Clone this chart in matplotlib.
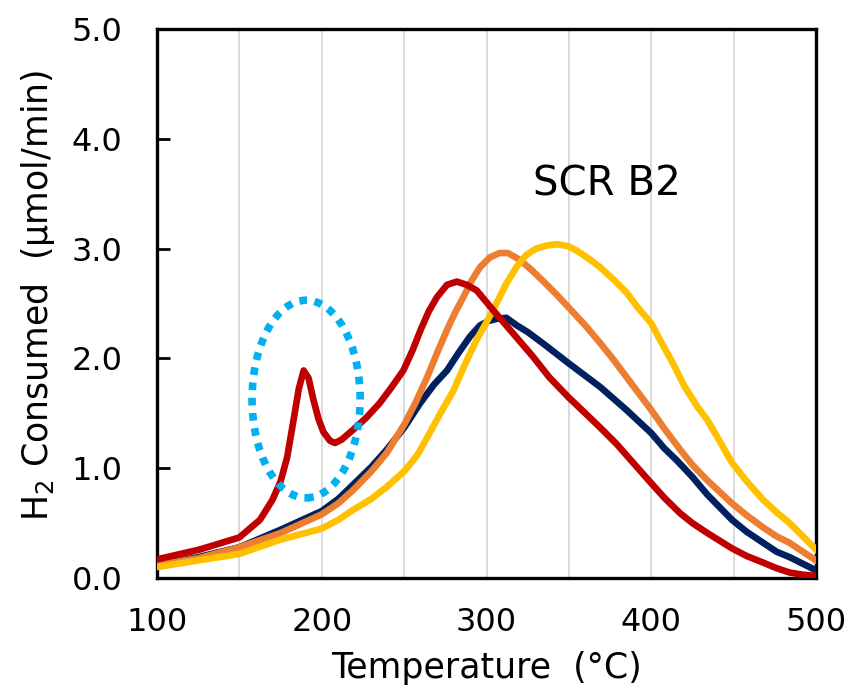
"""
H2-TPR profiles for SCR B2 catalyst samples
"""

### Import modules
import numpy as np
import matplotlib.pyplot as plt
from matplotlib.patches import Ellipse

### Data (temperature in C, H2 consumed in umol/min)
temp_red = [100, 126, 150, 162.5, 170, 175, 179, 183, 186, 189, 192, 195, 198,
            201, 205, 208, 212, 219, 227, 235, 242, 249.5, 255, 260, 265, 270,
            276, 282, 288, 294, 299, 304, 312, 320, 328, 338, 349.5, 360, 369,
            379, 389, 399, 408, 417.5, 425, 434, 449, 458, 468, 476, 484, 492, 500]
h2_red = [0.17, 0.26, 0.37, 0.53, 0.71, 0.88, 1.10, 1.45, 1.72, 1.89, 1.82, 1.62, 1.45,
          1.33, 1.25, 1.23, 1.26, 1.35, 1.46, 1.59, 1.73, 1.89, 2.07, 2.26, 2.43, 2.56,
          2.67, 2.70, 2.67, 2.62, 2.53, 2.44, 2.30, 2.16, 2.02, 1.83, 1.65, 1.50, 1.37,
          1.22, 1.05, 0.88, 0.73, 0.59, 0.50, 0.41, 0.27, 0.20, 0.14, 0.09, 0.05, 0.03, 0.02]

temp_navy = [100, 125, 150, 175, 200, 210, 219, 230, 239.5, 250.5, 259.6, 268, 276,
             283, 290, 296, 301, 306, 312, 318.5, 325, 334, 349.5, 369, 385, 400,
             408, 415.6, 425, 434, 449, 458, 468, 476, 484, 492, 500]
h2_navy = [0.12, 0.19, 0.28, 0.44, 0.61, 0.72, 0.85, 1.01, 1.17, 1.38, 1.59, 1.76, 1.89,
           2.05, 2.20, 2.30, 2.34, 2.36, 2.37, 2.30, 2.24, 2.14, 1.96, 1.74, 1.53, 1.32,
           1.18, 1.07, 0.92, 0.76, 0.53, 0.42, 0.32, 0.24, 0.19, 0.13, 0.07]

temp_orange = [100, 125, 150, 175, 200, 210, 219, 230, 239.5, 250.5, 257, 264, 270,
               276, 281, 286, 291, 296, 302, 308, 313, 320, 327, 334, 342, 349.5,
               360, 369, 377, 385, 393, 400, 408, 417.5, 425, 434, 449, 458, 468,
               476, 484, 492, 500]
h2_orange = [0.12, 0.18, 0.28, 0.41, 0.58, 0.68, 0.80, 0.97, 1.14, 1.41, 1.60, 1.83, 2.05,
             2.26, 2.42, 2.56, 2.71, 2.83, 2.92, 2.96, 2.96, 2.90, 2.81, 2.71, 2.59, 2.47,
             2.30, 2.14, 1.99, 1.83, 1.67, 1.53, 1.36, 1.17, 1.03, 0.89, 0.68, 0.57, 0.46,
             0.38, 0.32, 0.24, 0.16]

temp_yellow = [100, 125, 150, 175, 200, 210, 219, 230, 239.5, 250.5, 258, 264, 272,
               280, 287, 294, 300, 306, 312, 318.5, 324, 330, 337, 343, 350, 355,
               362, 369, 377, 385, 392, 400, 406, 413, 420, 428, 434, 441, 449, 458,
               468, 476, 484, 492, 500]
h2_yellow = [0.10, 0.16, 0.22, 0.35, 0.45, 0.53, 0.62, 0.72, 0.83, 0.98, 1.12, 1.28, 1.50,
             1.71, 1.95, 2.17, 2.33, 2.50, 2.68, 2.84, 2.94, 3.00, 3.03, 3.04, 3.02, 2.98,
             2.91, 2.83, 2.72, 2.60, 2.46, 2.32, 2.15, 1.96, 1.75, 1.56, 1.44, 1.26, 1.05,
             0.88, 0.71, 0.60, 0.50, 0.38, 0.26]

### Highlight of the low temperature peak
ring_center = (190.5, 1.63)
ring_width = 65.6
ring_height = 1.8

xticks = [100, 200, 300, 400, 500]
yticks = [0.0, 1.0, 2.0, 3.0, 4.0, 5.0]

###########################################################################
### Create plot
plt.rc('font', family='DejaVu Sans')
plt.rc('mathtext', default='regular')

fig = plt.figure(figsize=(8.51, 6.93), dpi=100)
ax = fig.add_axes([0.1845, 0.1659, 0.7744, 0.7922])

ax.plot(temp_navy, h2_navy, color='#002060', linewidth=4.8, zorder=3)
ax.plot(temp_orange, h2_orange, color='#ED7D31', linewidth=4.8, zorder=4)
ax.plot(temp_yellow, h2_yellow, color='#FFC000', linewidth=4.8, zorder=5)
ax.plot(temp_red, h2_red, color='#C00000', linewidth=4.8, zorder=6)

ring = Ellipse(ring_center, ring_width, ring_height, fill=False,
               edgecolor='#00B0F0', linewidth=5.5, linestyle=(0, (1, 1)), zorder=7)
ax.add_patch(ring)

ax.set_xlim(100, 500)
ax.set_ylim(0, 5)
ax.set_xticks(xticks)
ax.set_xticks(np.arange(150, 500, 100), minor=True)
ax.set_yticks(yticks)
ax.set_yticklabels(['%.1f' % v for v in yticks])
ax.grid(axis='x', which='both', color='#D4D4D4', linewidth=1.2, zorder=1)

ax.tick_params(axis='x', which='both', length=0, labelsize=23, pad=21)
ax.tick_params(axis='y', direction='in', length=9, width=2, labelsize=23, pad=25)
for sp in ax.spines.values():
    sp.set_linewidth(2.4)

ax.set_xlabel('Temperature  (\u00b0C)', fontsize=25)
ax.xaxis.set_label_coords(0.5, -0.133)
ax.set_ylabel('H$_2$ Consumed  (\u03bcmol/min)', fontsize=25)
ax.yaxis.set_label_coords(-0.152, 0.514)

ax.text(373, 3.58, 'SCR B2', fontsize=29, ha='center', va='center')

plt.savefig('out.png', dpi=100)
